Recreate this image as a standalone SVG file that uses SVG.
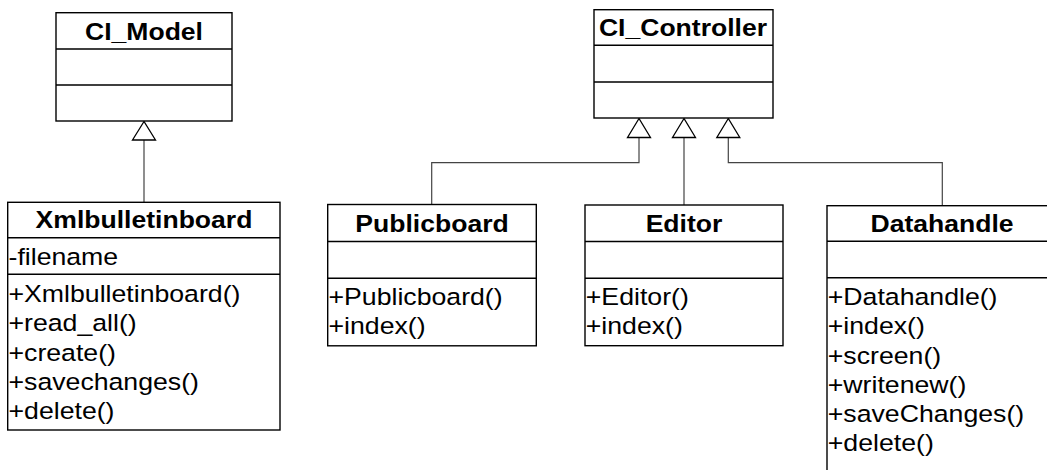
<svg xmlns="http://www.w3.org/2000/svg" width="1047" height="470" viewBox="0 0 1047 470">
<style>
.box{fill:#fff;stroke:#000;stroke-width:1.4}
.sep{stroke:#000;stroke-width:1.4}
.t{font-family:"Liberation Sans",Arial,sans-serif;font-size:23.5px;font-weight:bold;text-anchor:middle;fill:#000}
.m{font-family:"Liberation Sans",Arial,sans-serif;font-size:23.5px;fill:#000}
.c{fill:none;stroke:#444;stroke-width:1.2}
.tri{fill:#fff;stroke:#000;stroke-width:1.3}
</style>
<rect width="1047" height="470" fill="#fff"/>
<g id="connectors">
<path class="c" d="M144 202.3V140"/>
<polygon class="tri" points="144,121.5 132.5,140 155.5,140"/>
<path class="c" d="M431.7 204.5V162.7H639V137.5"/>
<polygon class="tri" points="639,118.5 627.5,137.5 650.5,137.5"/>
<path class="c" d="M684 205V137.5"/>
<polygon class="tri" points="684,118.5 672.5,137.5 695.5,137.5"/>
<path class="c" d="M942.3 205.7V162.7H728.3V137.5"/>
<polygon class="tri" points="728.3,118.5 716.8,137.5 739.8,137.5"/>
</g>
<g id="CI_Model">
<rect class="box" x="56" y="12.7" width="176" height="108.3"/>
<path class="sep" d="M56 49H232M56 85H232"/>
<text class="t" transform="translate(144 39.5) scale(1.13 1)">CI_Model</text>
</g>
<g id="CI_Controller">
<rect class="box" x="594" y="9.7" width="179" height="108.3"/>
<path class="sep" d="M594 45.3H773M594 82H773"/>
<text class="t" transform="translate(683 36) scale(1.13 1)">CI_Controller</text>
</g>
<g id="Xmlbulletinboard">
<rect class="box" x="7.7" y="202.3" width="272.3" height="227.7"/>
<path class="sep" d="M7.7 237.7H280M7.7 274.3H280"/>
<text class="t" transform="translate(144 228) scale(1.13 1)">Xmlbulletinboard</text>
<text class="m" transform="translate(8.5 265) scale(1.135 1)">-filename</text>
<text class="m" transform="translate(8.5 302.3) scale(1.135 1)">+Xmlbulletinboard()</text>
<text class="m" transform="translate(8.5 331.4) scale(1.135 1)">+read_all()</text>
<text class="m" transform="translate(8.5 360.5) scale(1.135 1)">+create()</text>
<text class="m" transform="translate(8.5 389.6) scale(1.135 1)">+savechanges()</text>
<text class="m" transform="translate(8.5 418.7) scale(1.135 1)">+delete()</text>
</g>
<g id="Publicboard">
<rect class="box" x="327.7" y="204.5" width="208.6" height="141.3"/>
<path class="sep" d="M327.7 241.5H536.3M327.7 278.2H536.3"/>
<text class="t" transform="translate(432 231.5) scale(1.13 1)">Publicboard</text>
<text class="m" transform="translate(328.5 305.3) scale(1.135 1)">+Publicboard()</text>
<text class="m" transform="translate(328.5 334.4) scale(1.135 1)">+index()</text>
</g>
<g id="Editor">
<rect class="box" x="585" y="205" width="198" height="140.7"/>
<path class="sep" d="M585 241.5H783M585 278.2H783"/>
<text class="t" transform="translate(684 231.5) scale(1.13 1)">Editor</text>
<text class="m" transform="translate(585.8 305.3) scale(1.135 1)">+Editor()</text>
<text class="m" transform="translate(585.8 334.4) scale(1.135 1)">+index()</text>
</g>
<g id="Datahandle">
<rect class="box" x="827" y="205.7" width="240" height="290"/>
<path class="sep" d="M827 241.2H1067M827 277.8H1067"/>
<text class="t" transform="translate(942 231.5) scale(1.13 1)">Datahandle</text>
<text class="m" transform="translate(827.8 305.3) scale(1.135 1)">+Datahandle()</text>
<text class="m" transform="translate(827.8 334.4) scale(1.135 1)">+index()</text>
<text class="m" transform="translate(827.8 363.5) scale(1.135 1)">+screen()</text>
<text class="m" transform="translate(827.8 392.6) scale(1.135 1)">+writenew()</text>
<text class="m" transform="translate(827.8 421.7) scale(1.135 1)">+saveChanges()</text>
<text class="m" transform="translate(827.8 450.8) scale(1.135 1)">+delete()</text>
</g>
</svg>
